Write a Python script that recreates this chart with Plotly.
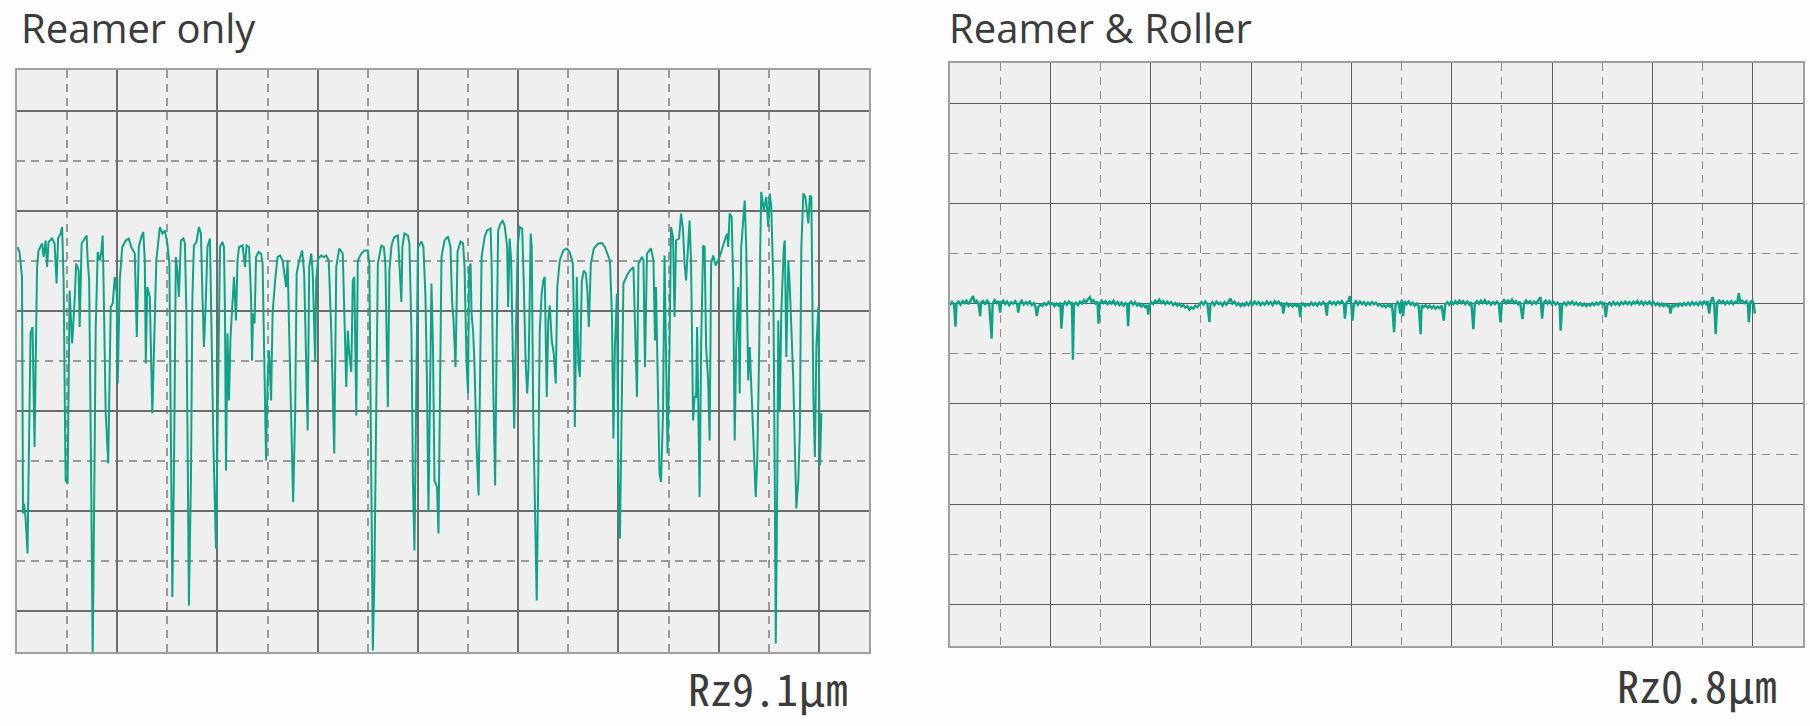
import plotly.graph_objects as go

# ---------------- data ----------------
TITLES = ["Reamer only", "Reamer & Roller"]
RZ_LABELS = ["Rz9.1\u03bcm", "Rz0.8\u03bcm"]

# Left profile: "Reamer only" (x in grid units, y in grid units ~ µm)
LEFT_X = [
    0.01, 0.05, 0.10, 0.12, 0.14, 0.17, 0.21, 0.27, 0.31, 0.35,
    0.40, 0.43, 0.50, 0.53, 0.57, 0.60, 0.63, 0.70, 0.75, 0.79,
    0.82, 0.87, 0.90, 0.93, 0.97, 1.01, 1.05, 1.10, 1.15, 1.18,
    1.23, 1.25, 1.29, 1.35, 1.39, 1.41, 1.44, 1.48, 1.51, 1.55,
    1.57, 1.61, 1.65, 1.68, 1.71, 1.73, 1.77, 1.82, 1.87, 1.91,
    1.95, 1.99, 2.01, 2.05, 2.10, 2.17, 2.23, 2.28, 2.35, 2.39,
    2.43, 2.48, 2.52, 2.55, 2.57, 2.60, 2.65, 2.70, 2.73, 2.78,
    2.85, 2.90, 2.95, 3.00, 3.04, 3.07, 3.10, 3.13, 3.17, 3.20,
    3.23, 3.27, 3.32, 3.35, 3.38, 3.41, 3.43, 3.47, 3.50, 3.53,
    3.58, 3.63, 3.67, 3.70, 3.73, 3.77, 3.80, 3.85, 3.87, 3.92,
    3.97, 4.00, 4.05, 4.10, 4.13, 4.15, 4.17, 4.20, 4.23, 4.26,
    4.29, 4.33, 4.37, 4.40, 4.43, 4.50, 4.55, 4.58, 4.63, 4.67,
    4.69, 4.71, 4.74, 4.77, 4.82, 4.87, 4.90, 4.93, 4.97, 5.00,
    5.03, 5.07, 5.10, 5.15, 5.20, 5.25, 5.30, 5.37, 5.40, 5.43,
    5.48, 5.51, 5.55, 5.58, 5.63, 5.69, 5.73, 5.77, 5.80, 5.83,
    5.87, 5.90, 5.95, 5.97, 6.01, 6.07, 6.12, 6.17, 6.22, 6.27,
    6.33, 6.37, 6.43, 6.50, 6.53, 6.57, 6.60, 6.63, 6.67, 6.70,
    6.73, 6.77, 6.80, 6.87, 6.93, 7.00, 7.03, 7.07, 7.10, 7.13,
    7.17, 7.20, 7.27, 7.32, 7.35, 7.40, 7.43, 7.47, 7.50, 7.53,
    7.60, 7.63, 7.67, 7.69, 7.73, 7.80, 7.83, 7.87, 7.90, 7.93,
    7.97, 8.00, 8.07, 8.11, 8.15, 8.18, 8.21, 8.25, 8.27, 8.30,
    8.33, 8.38, 8.41, 8.45, 8.47, 8.53, 8.60, 8.65, 8.68, 8.71,
    8.75, 8.79, 8.85, 8.90, 8.93, 8.97, 9.00, 9.02, 9.05, 9.07,
    9.10, 9.13, 9.17, 9.21, 9.23, 9.27, 9.33, 9.38, 9.45, 9.47,
    9.50, 9.54, 9.57, 9.60, 9.65, 9.69, 9.73, 9.78, 9.80, 9.83,
    9.86, 9.89, 9.92, 9.95, 9.99, 10.03, 10.08, 10.11, 10.15, 10.18,
    10.21, 10.25, 10.27, 10.30, 10.33, 10.37, 10.40, 10.43, 10.47, 10.50,
    10.53, 10.57, 10.60, 10.63, 10.67, 10.71, 10.75, 10.78, 10.83, 10.90,
    10.97, 11.03, 11.09, 11.11, 11.13, 11.17, 11.20, 11.23, 11.27, 11.31,
    11.35, 11.38, 11.41, 11.45, 11.51, 11.60, 11.67, 11.73, 11.83, 11.87,
    11.90, 11.93, 11.97, 12.00, 12.03, 12.07, 12.10, 12.17, 12.23, 12.30,
    12.33, 12.37, 12.40, 12.47, 12.50, 12.53, 12.57, 12.62, 12.65, 12.70,
    12.73, 12.75, 12.79, 12.82, 12.85, 12.89, 12.92, 12.95, 12.98, 13.02,
    13.05, 13.09, 13.12, 13.15, 13.21, 13.25, 13.29, 13.32, 13.35, 13.39,
    13.42, 13.45, 13.49, 13.52, 13.55, 13.57, 13.60, 13.62, 13.65, 13.69,
    13.72, 13.75, 13.79, 13.82, 13.85, 13.89, 13.94, 14.02, 14.12, 14.17,
    14.19, 14.22, 14.26, 14.29, 14.32, 14.35, 14.39, 14.42, 14.45, 14.49,
    14.52, 14.55, 14.59, 14.62, 14.67, 14.72, 14.74, 14.77, 14.81, 14.83,
    14.85, 14.90, 14.95, 14.99, 15.02, 15.05, 15.09, 15.12, 15.14, 15.17,
    15.19, 15.22, 15.25, 15.30, 15.32, 15.35, 15.39, 15.42, 15.45, 15.49,
    15.52, 15.55, 15.59, 15.62, 15.65, 15.69, 15.73, 15.79, 15.82, 15.85,
    15.89, 15.92, 15.95, 15.99, 16.02, 16.05,
]
LEFT_Y = [
    7.28, 7.18, 6.68, 1.95, 2.15, 1.88, 1.15, 5.55, 5.68, 3.28,
    6.88, 7.21, 7.35, 7.08, 7.41, 6.88, 7.38, 7.45, 7.35, 6.55,
    7.45, 7.55, 7.68, 6.61, 2.61, 2.55, 6.41, 5.35, 6.21, 6.95,
    6.81, 5.68, 7.35, 7.45, 7.51, 7.01, 6.61, 2.61, -0.89, 3.28,
    5.61, 7.18, 7.01, 7.15, 7.51, 6.41, 3.95, 2.95, 6.08, 6.15,
    6.68, 6.35, 4.55, 6.61, 7.28, 7.41, 7.45, 7.28, 7.15, 5.48,
    7.28, 7.48, 7.58, 7.01, 4.95, 6.48, 6.28, 3.95, 5.28, 7.01,
    7.68, 7.55, 7.61, 7.35, 6.95, 3.95, 0.28, 2.61, 7.08, 6.81,
    6.28, 7.41, 7.45, 7.35, 5.95, 2.61, 0.11, 2.61, 6.28, 7.31,
    7.38, 7.68, 7.55, 6.28, 5.28, 6.28, 7.28, 7.45, 5.95, 3.28,
    1.25, 3.95, 7.28, 7.38, 7.28, 5.95, 2.81, 5.55, 4.21, 5.48,
    5.95, 6.68, 5.81, 7.01, 7.28, 7.31, 6.88, 7.31, 7.28, 6.28,
    5.01, 5.95, 5.75, 7.08, 7.18, 7.15, 6.95, 5.28, 3.01, 4.61,
    5.21, 4.21, 5.95, 6.61, 7.08, 7.11, 7.01, 6.48, 7.01, 5.61,
    3.28, 2.18, 3.95, 6.75, 7.01, 7.21, 6.75, 5.01, 3.61, 6.88,
    7.15, 6.78, 4.98, 6.61, 7.05, 7.11, 7.08, 7.11, 7.01, 5.61,
    3.15, 6.88, 7.25, 7.15, 5.95, 4.48, 5.61, 5.15, 4.78, 6.61,
    6.68, 3.91, 7.01, 7.15, 7.21, 7.21, 6.95, 2.61, -0.79, 0.61,
    4.61, 6.95, 7.31, 7.28, 6.95, 4.08, 6.81, 7.28, 7.41, 7.48,
    7.51, 6.95, 6.18, 7.28, 7.55, 7.51, 7.35, 5.61, 2.61, 1.21,
    4.61, 7.28, 7.39, 7.28, 6.28, 4.61, 1.98, 4.61, 6.55, 5.28,
    2.61, 2.48, 1.55, 5.28, 7.08, 7.41, 7.49, 7.28, 6.21, 5.81,
    4.88, 7.18, 7.39, 7.35, 6.88, 4.95, 4.35, 6.81, 6.95, 5.95,
    5.61, 4.88, 3.28, 2.31, 3.95, 7.08, 7.48, 7.61, 7.65, 6.95,
    4.61, 2.51, 5.28, 7.61, 7.75, 7.80, 7.71, 7.28, 6.08, 7.45,
    7.01, 5.28, 3.65, 5.28, 7.28, 7.68, 7.65, 6.61, 4.95, 4.35,
    4.95, 7.55, 7.28, 3.95, 1.95, 0.21, 2.61, 5.61, 6.35, 6.61,
    6.68, 4.28, 5.81, 6.11, 5.41, 5.15, 4.55, 6.48, 7.01, 7.21,
    7.25, 7.18, 6.95, 5.95, 3.68, 6.68, 4.95, 4.68, 6.61, 6.81,
    6.75, 6.41, 5.68, 6.95, 7.25, 7.35, 7.36, 7.28, 7.01, 5.95,
    3.45, 5.28, 6.35, 2.61, 1.45, 3.95, 6.55, 6.71, 6.81, 6.88,
    5.95, 4.28, 6.95, 7.08, 7.01, 4.88, 7.15, 7.21, 7.25, 7.01,
    5.41, 6.48, 3.95, 2.75, 2.58, 3.95, 7.11, 5.28, 3.15, 5.28,
    7.68, 7.48, 5.88, 7.41, 7.45, 7.95, 7.61, 6.95, 6.61, 7.28,
    7.81, 6.95, 3.81, 4.28, 4.28, 5.68, 3.95, 2.28, 5.28, 7.31,
    7.28, 5.28, 4.61, 3.41, 6.95, 7.11, 6.91, 7.08, 7.41, 7.55,
    7.28, 7.95, 7.88, 6.61, 3.41, 5.28, 6.48, 4.35, 7.28, 7.81,
    8.21, 7.28, 4.61, 5.28, 3.95, 2.61, 2.28, 3.01, 5.28, 7.28,
    8.38, 8.01, 8.28, 7.68, 8.35, 8.08, 6.61, 2.61, -0.65, 2.61,
    5.81, 4.01, 5.95, 7.28, 7.41, 5.08, 7.01, 6.48, 5.68, 4.61,
    3.28, 2.05, 2.61, 3.61, 7.28, 8.35, 8.28, 7.75, 8.31, 8.28,
    4.28, 3.08, 5.28, 6.08, 2.91, 3.95,
]

# Right profile: "Reamer & Roller" as (x, y) readings
RIGHT_PROFILE = [
    (0.00, 5.97), (0.04, 6.03), (0.08, 5.98), (0.11, 5.54), (0.13, 6.00), (0.17, 6.04),
    (0.21, 5.98), (0.25, 6.05), (0.29, 6.01), (0.33, 6.06), (0.37, 5.99), (0.41, 6.07),
    (0.46, 6.15), (0.49, 6.02), (0.53, 6.06), (0.57, 5.99), (0.60, 5.75), (0.62, 6.02),
    (0.66, 6.05), (0.70, 5.98), (0.74, 6.06), (0.78, 6.01), (0.83, 5.30), (0.85, 6.00),
    (0.89, 6.07), (0.93, 6.01), (0.97, 6.05), (1.00, 5.82), (1.02, 6.02), (1.06, 6.06),
    (1.10, 5.99), (1.14, 6.04), (1.18, 5.97), (1.22, 6.03), (1.26, 6.00), (1.30, 6.05),
    (1.34, 5.98), (1.36, 5.82), (1.39, 6.01), (1.43, 6.06), (1.47, 5.98), (1.51, 6.03),
    (1.55, 5.99), (1.59, 6.04), (1.63, 5.97), (1.67, 6.01), (1.70, 5.95), (1.73, 5.75),
    (1.76, 5.93), (1.80, 5.98), (1.84, 5.95), (1.88, 6.01), (1.92, 5.97), (1.96, 6.03),
    (2.00, 5.98), (2.04, 6.01), (2.08, 5.95), (2.12, 6.00), (2.16, 5.96), (2.20, 6.02),
    (2.22, 5.50), (2.25, 5.96), (2.29, 6.03), (2.33, 5.98), (2.37, 6.04), (2.41, 5.99),
    (2.43, 6.03), (2.45, 4.88), (2.47, 5.97), (2.51, 6.02), (2.55, 5.97), (2.59, 6.04),
    (2.63, 6.00), (2.67, 6.07), (2.71, 6.02), (2.75, 6.09), (2.79, 6.13), (2.82, 6.03),
    (2.86, 6.07), (2.90, 6.00), (2.94, 6.04), (2.96, 5.60), (2.98, 5.99), (3.02, 6.06),
    (3.06, 6.01), (3.10, 6.05), (3.14, 5.99), (3.18, 6.04), (3.22, 6.00), (3.26, 6.06),
    (3.30, 5.98), (3.34, 6.03), (3.38, 5.97), (3.42, 6.02), (3.46, 5.96), (3.50, 6.01),
    (3.53, 5.97), (3.55, 5.55), (3.57, 6.00), (3.61, 6.04), (3.65, 5.98), (3.69, 6.03),
    (3.73, 5.96), (3.77, 6.00), (3.81, 5.94), (3.85, 5.98), (3.89, 5.93), (3.93, 5.97),
    (3.95, 5.78), (3.97, 5.96), (4.01, 6.03), (4.05, 5.99), (4.09, 6.06), (4.13, 6.02),
    (4.17, 6.08), (4.21, 6.01), (4.25, 6.05), (4.29, 5.99), (4.33, 6.04), (4.37, 6.00),
    (4.41, 6.03), (4.45, 5.97), (4.49, 6.01), (4.53, 5.96), (4.57, 6.00), (4.61, 5.94),
    (4.65, 5.97), (4.69, 5.92), (4.73, 5.95), (4.77, 5.88), (4.81, 5.93), (4.85, 5.90),
    (4.89, 5.96), (4.93, 5.93), (4.97, 5.99), (5.01, 6.03), (5.05, 5.98), (5.09, 6.04),
    (5.13, 5.99), (5.17, 5.63), (5.19, 5.98), (5.23, 6.03), (5.27, 5.97), (5.31, 6.04),
    (5.35, 5.99), (5.39, 6.02), (5.43, 5.96), (5.47, 6.03), (5.51, 5.98), (5.55, 6.05),
    (5.59, 6.10), (5.63, 6.00), (5.67, 6.04), (5.71, 5.97), (5.75, 6.01), (5.79, 5.95),
    (5.83, 6.00), (5.87, 5.96), (5.91, 6.02), (5.95, 5.97), (5.99, 6.03), (6.03, 5.98),
    (6.07, 6.04), (6.11, 5.99), (6.15, 6.03), (6.19, 5.97), (6.23, 6.02), (6.27, 5.98),
    (6.31, 6.04), (6.35, 5.99), (6.39, 6.03), (6.43, 5.97), (6.47, 6.05), (6.51, 6.00),
    (6.55, 6.04), (6.59, 5.98), (6.62, 6.02), (6.64, 5.80), (6.67, 5.97), (6.71, 6.01),
    (6.75, 5.95), (6.79, 5.99), (6.83, 5.94), (6.87, 5.99), (6.91, 5.95), (6.95, 6.00),
    (6.98, 5.73), (7.00, 5.96), (7.04, 6.00), (7.08, 5.95), (7.12, 5.99), (7.16, 5.96),
    (7.20, 6.02), (7.24, 5.97), (7.28, 6.01), (7.32, 5.96), (7.36, 6.02), (7.40, 5.98),
    (7.44, 6.03), (7.48, 5.97), (7.51, 5.76), (7.53, 6.00), (7.57, 6.04), (7.61, 5.99),
    (7.65, 6.03), (7.69, 5.98), (7.73, 6.04), (7.77, 6.00), (7.81, 6.05), (7.85, 5.99),
    (7.87, 5.70), (7.90, 6.02), (7.94, 6.05), (7.97, 6.15), (8.00, 5.95), (8.02, 5.66),
    (8.05, 6.00), (8.09, 6.05), (8.13, 5.98), (8.17, 6.04), (8.21, 5.99), (8.25, 6.03),
    (8.29, 5.97), (8.33, 6.02), (8.37, 5.98), (8.41, 6.03), (8.45, 5.99), (8.49, 6.02),
    (8.53, 5.96), (8.57, 5.99), (8.61, 5.94), (8.65, 5.97), (8.69, 5.93), (8.73, 5.98),
    (8.77, 5.94), (8.81, 5.99), (8.85, 5.43), (8.88, 5.98), (8.92, 6.03), (8.95, 5.97),
    (8.97, 5.80), (9.00, 6.08), (9.03, 5.75), (9.06, 6.05), (9.10, 5.99), (9.14, 6.04),
    (9.18, 5.98), (9.22, 6.02), (9.26, 5.96), (9.30, 6.00), (9.34, 5.95), (9.38, 5.39),
    (9.40, 5.97), (9.44, 5.93), (9.48, 5.97), (9.52, 5.92), (9.56, 5.96), (9.60, 5.91),
    (9.64, 5.95), (9.68, 5.90), (9.72, 5.94), (9.76, 5.91), (9.80, 5.96), (9.84, 5.66),
    (9.87, 5.98), (9.91, 6.03), (9.95, 5.98), (9.99, 6.04), (10.03, 5.99), (10.07, 6.05),
    (10.11, 6.00), (10.15, 6.06), (10.19, 6.01), (10.23, 6.05), (10.27, 5.99), (10.31, 6.04),
    (10.35, 5.98), (10.39, 6.03), (10.43, 5.49), (10.46, 6.00), (10.50, 6.05), (10.54, 6.00),
    (10.58, 6.06), (10.62, 6.01), (10.66, 6.07), (10.70, 6.00), (10.74, 6.04), (10.78, 5.98),
    (10.82, 6.03), (10.86, 5.99), (10.90, 6.04), (10.94, 5.98), (10.97, 5.63), (11.00, 6.02),
    (11.04, 6.07), (11.08, 6.01), (11.12, 6.06), (11.16, 6.02), (11.20, 6.08), (11.24, 6.01),
    (11.28, 6.05), (11.32, 5.99), (11.36, 6.04), (11.41, 5.69), (11.44, 6.00), (11.48, 6.06),
    (11.52, 6.01), (11.56, 6.05), (11.60, 5.99), (11.64, 6.04), (11.68, 6.00), (11.72, 6.06),
    (11.77, 6.13), (11.80, 5.70), (11.83, 6.02), (11.87, 6.06), (11.91, 6.00), (11.95, 6.05),
    (11.99, 5.99), (12.03, 6.03), (12.07, 5.98), (12.11, 6.02), (12.15, 5.97), (12.17, 5.46),
    (12.20, 5.98), (12.24, 6.02), (12.28, 5.97), (12.32, 6.03), (12.36, 5.99), (12.40, 6.04),
    (12.44, 5.98), (12.48, 6.02), (12.52, 5.97), (12.56, 6.01), (12.60, 5.96), (12.64, 6.00),
    (12.68, 5.95), (12.72, 5.99), (12.76, 5.96), (12.80, 6.01), (12.84, 5.97), (12.88, 6.02),
    (12.92, 5.98), (12.96, 6.03), (13.00, 5.99), (13.04, 6.01), (13.07, 5.73), (13.10, 5.97),
    (13.14, 6.02), (13.18, 5.97), (13.22, 6.03), (13.26, 5.98), (13.30, 6.02), (13.34, 5.97),
    (13.38, 6.03), (13.42, 5.99), (13.46, 6.04), (13.50, 5.99), (13.54, 6.03), (13.58, 5.98),
    (13.62, 6.04), (13.66, 6.00), (13.70, 6.05), (13.74, 5.99), (13.78, 6.04), (13.82, 5.98),
    (13.86, 6.03), (13.90, 5.99), (13.94, 6.04), (13.98, 5.98), (14.02, 6.03), (14.06, 5.97),
    (14.10, 6.01), (14.14, 5.96), (14.18, 6.00), (14.22, 5.95), (14.26, 5.99), (14.30, 5.95),
    (14.33, 5.98), (14.36, 5.80), (14.39, 5.98), (14.43, 5.94), (14.47, 5.99), (14.51, 5.95),
    (14.55, 6.00), (14.59, 5.96), (14.63, 6.01), (14.67, 5.97), (14.71, 6.02), (14.75, 5.97),
    (14.79, 6.03), (14.83, 5.98), (14.87, 6.02), (14.91, 5.97), (14.95, 6.03), (14.99, 5.98),
    (15.03, 6.04), (15.07, 5.99), (15.10, 6.05), (15.13, 5.80), (15.16, 6.03), (15.20, 6.13),
    (15.23, 6.00), (15.26, 5.39), (15.29, 6.02), (15.33, 6.06), (15.37, 6.01), (15.41, 6.05),
    (15.45, 5.99), (15.49, 6.04), (15.53, 6.00), (15.57, 6.05), (15.61, 5.99), (15.65, 6.04),
    (15.69, 6.02), (15.72, 6.21), (15.75, 6.03), (15.79, 6.06), (15.83, 6.01), (15.87, 6.05),
    (15.90, 6.00), (15.92, 5.63), (15.95, 6.03), (15.99, 6.06), (16.02, 5.98), (16.04, 5.80),
]
RIGHT_X = [p[0] for p in RIGHT_PROFILE]
RIGHT_Y = [p[1] for p in RIGHT_PROFILE]

# ---------------- figure ----------------
W, H = 1810, 726
TEAL = "#0ea386"
TEXT = "#3b3b3b"


def fx(p):
    return p / W


def fy(p):
    return 1 - p / H


def make_axis(domain, rng, anchor, solid, dashed, solid_w, dashed_w):
    return dict(
        domain=domain, range=rng, anchor=anchor,
        tick0=0, dtick=2, showgrid=True, gridcolor=solid, gridwidth=solid_w,
        minor=dict(tick0=0, dtick=1, showgrid=True, gridcolor=dashed,
                   gridwidth=dashed_w, griddash="8px,6px", ticks=""),
        showticklabels=False, ticks="", zeroline=False,
        showline=True, mirror=True, linecolor="#a0a0a0", linewidth=2,
        fixedrange=True,
    )


fig = go.Figure()
fig.add_trace(go.Scatter(x=LEFT_X, y=LEFT_Y, mode="lines",
                         line=dict(color=TEAL, width=2),
                         xaxis="x", yaxis="y", hoverinfo="skip"))
fig.add_trace(go.Scatter(x=RIGHT_X, y=RIGHT_Y, mode="lines",
                         line=dict(color=TEAL, width=2.4),
                         xaxis="x2", yaxis="y2", hoverinfo="skip"))

fig.update_layout(
    width=W, height=H, autosize=False,
    margin=dict(l=0, r=0, t=0, b=0, pad=0),
    paper_bgcolor="#fdfdfd", plot_bgcolor="#efefef",
    showlegend=False,
    xaxis=make_axis([fx(17), fx(869)], [0, 17], "y", "#6c6c6c", "#999999", 1.5, 1.5),
    yaxis=make_axis([fy(652), fy(70)], [-0.82, 10.82], "x", "#6c6c6c", "#999999", 1.5, 1.5),
    xaxis2=make_axis([fx(950), fx(1803)], [0, 17], "y2", "#5c5c5c", "#8c8c8c", 1.2, 1.2),
    yaxis2=make_axis([fy(646), fy(63)], [-0.83, 10.80], "x2", "#5c5c5c", "#8c8c8c", 1.2, 1.2),
)

annotations = [
    dict(text=TITLES[0], x=fx(19), y=fy(28), xref="paper", yref="paper",
         xanchor="left", yanchor="middle", showarrow=False,
         font=dict(family="Open Sans", size=40, color=TEXT)),
    dict(text=TITLES[1], x=fx(947), y=fy(28), xref="paper", yref="paper",
         xanchor="left", yanchor="middle", showarrow=False,
         font=dict(family="Open Sans", size=40, color=TEXT)),
    dict(text=RZ_LABELS[0], x=fx(850), y=fy(687), xref="paper", yref="paper",
         xanchor="right", yanchor="middle", showarrow=False,
         font=dict(family="Noto Sans Mono CJK JP, DejaVu Sans Mono", size=44, color=TEXT)),
    dict(text=RZ_LABELS[1], x=fx(1779), y=fy(684), xref="paper", yref="paper",
         xanchor="right", yanchor="middle", showarrow=False,
         font=dict(family="Noto Sans Mono CJK JP, DejaVu Sans Mono", size=44, color=TEXT)),
]
fig.update_layout(annotations=annotations)

# remove the page's default body margin so the figure fills the window exactly
fig.write_html("out.html", config={"displayModeBar": False},
               post_script="document.body.style.margin = '0px';")
